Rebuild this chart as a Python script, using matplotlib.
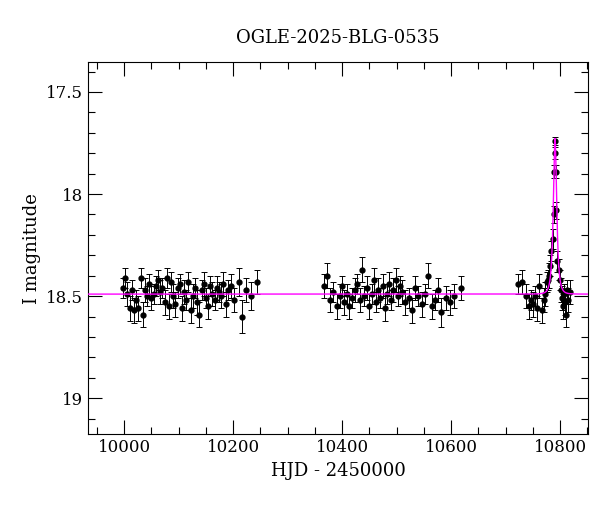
import numpy as np
import matplotlib
matplotlib.use("Agg")
import matplotlib.pyplot as plt
from matplotlib.ticker import MultipleLocator

title = "OGLE-2025-BLG-0535"
t1 = [9998,10002,10006,10010,10014,10018,10022,10026,10030,10034,10038,10042,10046,10050,10054,10058,10062,10066,10070,10074,10078,10082,10086,10090,10094,10098,10102,10106,10110,10114,10118,10122,10126,10130,10134,10138,10142,10146,10150,10154,10158,10162,10166,10170,10174,10178,10182,10186,10190,10196,10202,10210,10216,10224,10232,10244]
m1 = [18.46,18.41,18.49,18.56,18.47,18.57,18.52,18.56,18.41,18.59,18.47,18.50,18.44,18.51,18.49,18.45,18.42,18.48,18.46,18.53,18.41,18.55,18.43,18.50,18.54,18.46,18.44,18.56,18.48,18.52,18.43,18.57,18.50,18.46,18.53,18.59,18.47,18.44,18.51,18.55,18.45,18.49,18.52,18.46,18.48,18.50,18.44,18.54,18.47,18.45,18.52,18.43,18.60,18.47,18.50,18.43]
e1 = [0.05,0.05,0.06,0.06,0.05,0.06,0.05,0.06,0.05,0.06,0.06,0.05,0.05,0.06,0.05,0.05,0.05,0.06,0.05,0.06,0.05,0.06,0.05,0.06,0.06,0.05,0.05,0.06,0.06,0.05,0.05,0.06,0.06,0.05,0.06,0.06,0.05,0.06,0.05,0.06,0.05,0.06,0.05,0.06,0.05,0.06,0.06,0.06,0.05,0.06,0.06,0.07,0.08,0.06,0.07,0.06]
t2 = [10366,10372,10378,10384,10390,10396,10400,10404,10408,10412,10418,10424,10428,10432,10436,10440,10446,10450,10454,10458,10462,10466,10470,10474,10478,10482,10486,10490,10494,10498,10502,10506,10510,10516,10522,10528,10534,10540,10546,10552,10558,10564,10570,10576,10582,10590,10598,10606,10618]
m2 = [18.45,18.40,18.52,18.48,18.55,18.50,18.45,18.53,18.49,18.55,18.51,18.47,18.44,18.52,18.37,18.50,18.46,18.55,18.49,18.42,18.53,18.47,18.51,18.45,18.56,18.49,18.44,18.52,18.47,18.42,18.50,18.45,18.48,18.53,18.51,18.57,18.46,18.50,18.54,18.49,18.40,18.55,18.52,18.47,18.58,18.51,18.53,18.50,18.46]
e2 = [0.06,0.06,0.06,0.05,0.06,0.06,0.05,0.06,0.05,0.06,0.05,0.06,0.05,0.06,0.06,0.05,0.06,0.06,0.05,0.06,0.05,0.06,0.05,0.06,0.06,0.05,0.06,0.05,0.06,0.06,0.05,0.05,0.06,0.06,0.05,0.06,0.06,0.05,0.06,0.05,0.06,0.06,0.05,0.06,0.07,0.06,0.06,0.06,0.06]
t3 = [10722,10730,10738,10742,10746,10750,10754,10758,10762,10766,10770,10773,10776,10778,10780,10782,10784,10786,10788,10789,10790,10791,10792,10793,10795,10797,10799,10801,10803,10805,10807,10809,10811,10813,10815,10818]
m3 = [18.44,18.43,18.50,18.55,18.52,18.54,18.50,18.56,18.45,18.57,18.52,18.49,18.43,18.42,18.40,18.35,18.28,18.22,18.10,17.89,17.80,17.74,17.89,18.08,18.33,18.37,18.42,18.47,18.51,18.55,18.49,18.53,18.59,18.47,18.52,18.48]
e3 = [0.05,0.06,0.06,0.06,0.05,0.06,0.05,0.06,0.06,0.06,0.06,0.06,0.05,0.05,0.06,0.05,0.05,0.05,0.04,0.03,0.03,0.02,0.03,0.04,0.05,0.05,0.05,0.06,0.06,0.06,0.05,0.06,0.06,0.05,0.06,0.06]

# model parameters (PSPL)
t0, tE, u0, I0 = 10790.5, 5.0, 0.55, 18.49

t = np.array(t1 + t2 + t3); m = np.array(m1 + m2 + m3); e = np.array(e1 + e2 + e3)

fig = plt.figure(figsize=(6.0, 5.12), dpi=100)
ax = fig.add_axes([0.147, 0.152, 0.833, 0.727])
tm = np.linspace(9930, 10855, 4000)
u = np.sqrt(u0**2 + ((tm - t0) / tE)**2)
A = (u**2 + 2) / (u * np.sqrt(u**2 + 4))
mm = I0 - 2.5 * np.log10(A)
ax.plot(tm, mm, color="#ff00ff", lw=1, zorder=3)
ax.errorbar(t, m, yerr=e, fmt="o", color="black", ms=3.5, elinewidth=0.7, capsize=2.5, capthick=0.7, zorder=2)
ax.set_xlim(9934, 10851)
ax.set_ylim(19.176, 17.353)
ax.xaxis.set_major_locator(MultipleLocator(200))
ax.xaxis.set_minor_locator(MultipleLocator(50))
ax.yaxis.set_major_locator(MultipleLocator(0.5))
ax.yaxis.set_minor_locator(MultipleLocator(0.1))
ax.yaxis.set_major_formatter(plt.FuncFormatter(lambda v, p: f"{v:g}"))
ax.tick_params(which="both", direction="in", top=True, right=True, labelsize=12, width=0.8)
ax.tick_params(which="major", length=10)
ax.tick_params(which="minor", length=5)
for lab in ax.get_xticklabels() + ax.get_yticklabels():
    lab.set_family("DejaVu Serif")
ax.set_xlabel("HJD - 2450000", fontsize=13, family="DejaVu Serif")
ax.set_ylabel("I magnitude", fontsize=13, family="DejaVu Serif")
ax.set_title(title, fontsize=13, family="DejaVu Serif", pad=14)
fig.savefig("out.png", dpi=100)
